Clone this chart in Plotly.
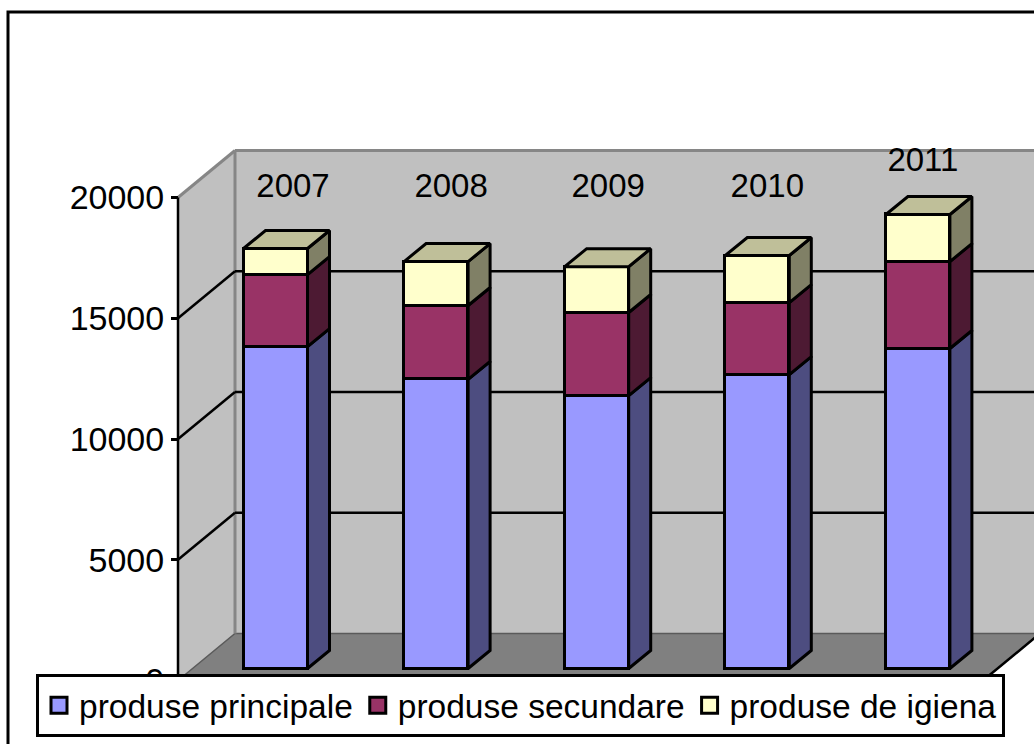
import plotly.graph_objects as go

YEARS = ["2007", "2008", "2009", "2010", "2011"]
PRINCIPALE = [13330, 11970, 11300, 12170, 13250]
SECUNDARE = [2980, 3060, 3440, 2980, 3600]
IGIENA = [1080, 1820, 1900, 1950, 1950]
Y_TICKS = [0, 5000, 10000, 15000, 20000]

SERIES = [
    ("produse principale", PRINCIPALE, "#9999FF", "#4D4D80", "#7373BF"),
    ("produse secundare", SECUNDARE, "#993366", "#4D1A33", "#732650"),
    ("produse de igiena", IGIENA, "#FFFFCC", "#808066", "#BFBF99"),
]

# page geometry, px. The chart is an Excel style 3D column, so depth is faked
WIDTH, HEIGHT = 1034, 744
X0_PX, X_STEP = 275.5, 160.6    # first column centre, column spacing
Y0_PX, Y_SCALE = 668.5, 0.02415   # baseline of the columns, px per unit
BAR_W = 64 / X_STEP
DX, DY = 22 / X_STEP, 18 / Y_SCALE              # column depth
BACK_DX, BACK_DY = -40.5 / X_STEP, 35 / Y_SCALE  # column plane to back wall
FRONT_DX, FRONT_DY = -97.5 / X_STEP, -12 / Y_SCALE  # column plane to front edge
LABEL_X = [17.5, 15, 11.5, 10, 5]  # px right of column centre
LABEL_Y = [189, 189, 189, 189, 163]  # px from top
EDGE = 3

FONT = "Liberation Sans, Arial, sans-serif"


def px_x(px):
    return (px - X0_PX) / X_STEP


def px_y(px):
    return (Y0_PX - px) / Y_SCALE


def paper_rect(x0, y0, x1, y1):
    return dict(type="rect", xref="paper", yref="paper", x0=x0 / WIDTH, x1=x1 / WIDTH,
                y0=1 - y0 / HEIGHT, y1=1 - y1 / HEIGHT)


fig = go.Figure()

# columns: front faces are real stacked bars
xs = list(range(len(YEARS)))
for name, values, color, _, _ in SERIES:
    fig.add_trace(go.Bar(x=xs, y=values, name=name, width=BAR_W, showlegend=False,
                         marker=dict(color=color, line=dict(color="black", width=EDGE))))

# side and top faces, from the same values
base = [0] * len(YEARS)
for s, (name, values, color, side, top) in enumerate(SERIES):
    sx, sy = [], []
    for i, v in enumerate(values):
        right = i + BAR_W / 2
        sx += [right, right + DX, right + DX, right, right, None]
        sy += [base[i], base[i] + DY, base[i] + v + DY, base[i] + v, base[i], None]
    fig.add_trace(go.Scatter(x=sx, y=sy, mode="lines", fill="toself", fillcolor=side,
                             line=dict(color="black", width=EDGE), showlegend=False, hoverinfo="skip"))
    base = [b + v for b, v in zip(base, values)]
    if s == len(SERIES) - 1:
        tx, ty = [], []
        for i, b in enumerate(base):
            left, right = i - BAR_W / 2, i + BAR_W / 2
            tx += [left, left + DX, right + DX, right, left, None]
            ty += [b, b + DY, b + DY, b, b, None]
        fig.add_trace(go.Scatter(x=tx, y=ty, mode="lines", fill="toself", fillcolor=top,
                                 line=dict(color="black", width=EDGE), showlegend=False, hoverinfo="skip"))

# year labels
fig.add_trace(go.Scatter(
    x=[i + d / X_STEP for i, d in enumerate(LABEL_X)], y=[px_y(p) for p in LABEL_Y],
    mode="text", text=YEARS, textposition="middle center",
    textfont=dict(family=FONT, size=33, color="black"), showlegend=False, hoverinfo="skip",
))

# legend swatches only, the plotly bar symbol is too small
for name, _, color, _, _ in SERIES:
    fig.add_trace(go.Scatter(x=[None], y=[None], mode="markers", name=name,
                             marker=dict(symbol="square", size=16, color=color,
                                         line=dict(color="black", width=3))))

# front edge of the side wall, carries the visible value axis
x_front = FRONT_DX
fig.add_trace(go.Scatter(x=[x_front, x_front], y=[0, 20000], yaxis="y2", mode="lines",
                         line=dict(color="black", width=2.5), showlegend=False, hoverinfo="skip"))

x_back = BACK_DX
x_edge = px_x(WIDTH + 6)
x_floor_front = x_edge - (x_back - x_front)
GRID = dict(color="black", width=2.5)
WALL = dict(color="#868686", width=3)
shapes = [
    # side wall, back wall, floor
    dict(type="path", layer="below", fillcolor="#C0C0C0", line=dict(width=0),
         path=f"M{x_front},{FRONT_DY} L{x_back},{BACK_DY} L{x_back},{BACK_DY + 20000} L{x_front},{FRONT_DY + 20000} Z"),
    dict(type="rect", layer="below", fillcolor="#C0C0C0", line=dict(width=0),
         x0=x_back, x1=x_edge, y0=BACK_DY, y1=BACK_DY + 20000),
    dict(type="path", layer="below", fillcolor="#808080", line=dict(color="#5A5A5A", width=1.5),
         path=f"M{x_front},{FRONT_DY} L{x_back},{BACK_DY} L{x_edge},{BACK_DY} L{x_floor_front},{FRONT_DY} Z"),
    dict(type="line", layer="below", line=GRID, x0=x_floor_front, x1=x_edge, y0=FRONT_DY, y1=BACK_DY),
    # wall edges
    dict(type="line", layer="below", line=WALL, x0=x_back, x1=x_back, y0=BACK_DY, y1=BACK_DY + 20000),
    dict(type="line", layer="below", line=WALL, x0=x_back, x1=x_edge, y0=BACK_DY + 20000, y1=BACK_DY + 20000),
    dict(type="line", layer="below", line=WALL, x0=x_front, x1=x_back, y0=FRONT_DY + 20000, y1=BACK_DY + 20000),
    # chart frame runs off the page on the right and bottom
    dict(paper_rect(8, 12, WIDTH + 20, HEIGHT + 20), layer="below", line=dict(color="black", width=3)),
]
# grid lines, diagonal on the side wall then flat along the back
for t in Y_TICKS[1:-1]:
    shapes.append(dict(type="line", layer="below", line=GRID, x0=x_front, x1=x_back,
                       y0=FRONT_DY + t, y1=BACK_DY + t))
    shapes.append(dict(type="line", layer="below", line=GRID, x0=x_back, x1=x_edge,
                       y0=BACK_DY + t, y1=BACK_DY + t))

y_range = [px_y(HEIGHT), px_y(0)]
fig.update_layout(
    width=WIDTH, height=HEIGHT, autosize=False,
    margin=dict(l=0, r=0, t=0, b=0),
    paper_bgcolor="white", plot_bgcolor="rgba(0,0,0,0)",
    barmode="stack", bargap=0,
    font=dict(family=FONT, size=33, color="black"),
    shapes=shapes,
    xaxis=dict(range=[px_x(0), px_x(WIDTH)], visible=False, fixedrange=True),
    yaxis=dict(range=y_range, visible=False, fixedrange=True),
    yaxis2=dict(
        range=[y_range[0] - FRONT_DY, y_range[1] - FRONT_DY], overlaying="y", side="left",
        anchor="free", position=178 / WIDTH, tickvals=Y_TICKS, tickformat="d", ticks="outside", ticklen=7,
        tickwidth=2.5, tickcolor="black", showgrid=False, zeroline=False, showline=False,
        tickfont=dict(family=FONT, size=34, color="black"), fixedrange=True,
    ),
    legend=dict(
        orientation="h", traceorder="normal", x=36 / WIDTH, xanchor="left", y=1 - 674 / HEIGHT, yanchor="top",
        bgcolor="white", bordercolor="black", borderwidth=3,
        font=dict(family=FONT, size=33.5, color="black"),
    ),
    showlegend=True,
)

fig.write_html("out.html", config=dict(displayModeBar=False),
               post_script="document.body.style.margin='0';document.body.style.overflow='hidden';")
